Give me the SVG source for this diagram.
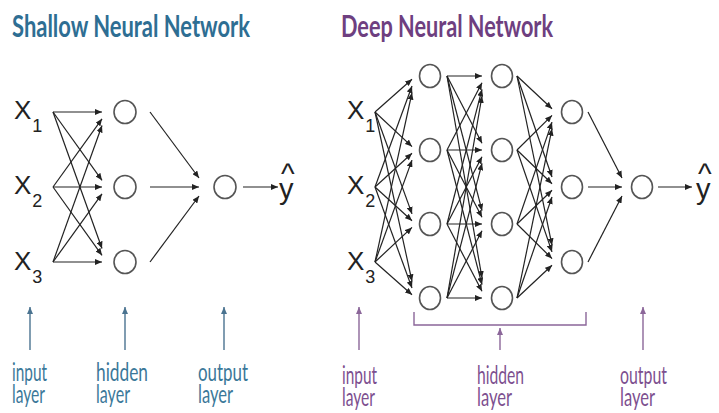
<svg xmlns="http://www.w3.org/2000/svg" width="719" height="413" viewBox="0 0 719 413">
<style>
.title{font-family:Lato,"Liberation Sans",sans-serif;font-weight:bold;font-size:30px}
.blue{fill:#2e6e93}
.purple{fill:#6e3f80}
.lbl{font-family:Lato,"Liberation Sans",sans-serif;font-size:25px}
.lblb{fill:#3b7899}
.lblp{fill:#7d4f8f}
.x{font-family:"Liberation Sans",Arial,sans-serif;font-size:26px;fill:#222}
.sub{font-size:18px}
.yh{font-family:"Liberation Sans",Arial,sans-serif;font-size:29px;fill:#222}
.node{fill:#fff;stroke:#555;stroke-width:1.6}
.edge{stroke:#222;stroke-width:1.2;fill:none;marker-end:url(#ah)}
.pa{stroke:#4a7390;stroke-width:1.4;fill:none;marker-end:url(#ahb)}
.pp{stroke:#8b6699;stroke-width:1.4;fill:none}
.ppa{stroke:#8b6699;stroke-width:1.4;fill:none;marker-end:url(#ahp)}
</style>
<defs>
<marker id="ah" markerUnits="userSpaceOnUse" markerWidth="7" markerHeight="6" refX="7" refY="3" orient="auto"><path d="M0,0 L7,3 L0,6 z" fill="#222"/></marker>
<marker id="ahb" markerUnits="userSpaceOnUse" markerWidth="7" markerHeight="6" refX="7" refY="3" orient="auto"><path d="M0,0 L7,3 L0,6 z" fill="#4a7390"/></marker>
<marker id="ahp" markerUnits="userSpaceOnUse" markerWidth="7" markerHeight="6" refX="7" refY="3" orient="auto"><path d="M0,0 L7,3 L0,6 z" fill="#8b6699"/></marker>
</defs>
<rect width="719" height="413" fill="#fff"/>

<text class="title blue" x="12" y="37" textLength="238" lengthAdjust="spacingAndGlyphs">Shallow Neural Network</text>
<text class="title purple" x="341" y="37" textLength="212" lengthAdjust="spacingAndGlyphs">Deep Neural Network</text>

<g id="connectors">
<line class="edge" x1="53" y1="112" x2="102" y2="112"/>
<line class="edge" x1="53" y1="112" x2="102" y2="180.3"/>
<line class="edge" x1="53" y1="112" x2="102" y2="248.5"/>
<line class="edge" x1="53" y1="187" x2="102" y2="118.8"/>
<line class="edge" x1="53" y1="187" x2="102" y2="187"/>
<line class="edge" x1="53" y1="187" x2="102" y2="255.3"/>
<line class="edge" x1="53" y1="262" x2="102" y2="125.5"/>
<line class="edge" x1="53" y1="262" x2="102" y2="193.8"/>
<line class="edge" x1="53" y1="262" x2="102" y2="262"/>
<line class="edge" x1="150" y1="112" x2="199" y2="178"/>
<line class="edge" x1="150" y1="187" x2="199" y2="187"/>
<line class="edge" x1="150" y1="262" x2="199" y2="196"/>
<line class="edge" x1="243" y1="187" x2="278" y2="187"/>

<line class="edge" x1="375" y1="112" x2="412" y2="79.2"/>
<line class="edge" x1="375" y1="112" x2="412" y2="146.6"/>
<line class="edge" x1="375" y1="112" x2="412" y2="213.9"/>
<line class="edge" x1="375" y1="112" x2="412" y2="281.3"/>
<line class="edge" x1="375" y1="187" x2="412" y2="86"/>
<line class="edge" x1="375" y1="187" x2="412" y2="153.3"/>
<line class="edge" x1="375" y1="187" x2="412" y2="220.7"/>
<line class="edge" x1="375" y1="187" x2="412" y2="288"/>
<line class="edge" x1="375" y1="262" x2="412" y2="92.7"/>
<line class="edge" x1="375" y1="262" x2="412" y2="160.1"/>
<line class="edge" x1="375" y1="262" x2="412" y2="227.4"/>
<line class="edge" x1="375" y1="262" x2="412" y2="294.8"/>
<line class="edge" x1="447" y1="76" x2="482" y2="76"/>
<line class="edge" x1="447" y1="76" x2="482" y2="143.3"/>
<line class="edge" x1="447" y1="76" x2="482" y2="210.7"/>
<line class="edge" x1="447" y1="76" x2="482" y2="278"/>
<line class="edge" x1="447" y1="150" x2="482" y2="82.7"/>
<line class="edge" x1="447" y1="150" x2="482" y2="150"/>
<line class="edge" x1="447" y1="150" x2="482" y2="217.3"/>
<line class="edge" x1="447" y1="150" x2="482" y2="284.7"/>
<line class="edge" x1="447" y1="224" x2="482" y2="89.3"/>
<line class="edge" x1="447" y1="224" x2="482" y2="156.7"/>
<line class="edge" x1="447" y1="224" x2="482" y2="224"/>
<line class="edge" x1="447" y1="224" x2="482" y2="291.3"/>
<line class="edge" x1="447" y1="298" x2="482" y2="96"/>
<line class="edge" x1="447" y1="298" x2="482" y2="163.3"/>
<line class="edge" x1="447" y1="298" x2="482" y2="230.7"/>
<line class="edge" x1="447" y1="298" x2="482" y2="298"/>
<line class="edge" x1="517" y1="76" x2="552" y2="108.8"/>
<line class="edge" x1="517" y1="76" x2="552" y2="177"/>
<line class="edge" x1="517" y1="76" x2="552" y2="245.3"/>
<line class="edge" x1="517" y1="150" x2="552" y2="115.4"/>
<line class="edge" x1="517" y1="150" x2="552" y2="183.7"/>
<line class="edge" x1="517" y1="150" x2="552" y2="251.9"/>
<line class="edge" x1="517" y1="224" x2="552" y2="122.1"/>
<line class="edge" x1="517" y1="224" x2="552" y2="190.3"/>
<line class="edge" x1="517" y1="224" x2="552" y2="258.6"/>
<line class="edge" x1="517" y1="298" x2="552" y2="128.7"/>
<line class="edge" x1="517" y1="298" x2="552" y2="197"/>
<line class="edge" x1="517" y1="298" x2="552" y2="265.2"/>
<line class="edge" x1="588" y1="112" x2="622" y2="178"/>
<line class="edge" x1="588" y1="187" x2="622" y2="187"/>
<line class="edge" x1="588" y1="262" x2="622" y2="196"/>
<line class="edge" x1="658" y1="187" x2="692" y2="187"/>

<line class="pa" x1="30" y1="350" x2="30" y2="307"/>
<line class="pa" x1="125" y1="350" x2="125" y2="307"/>
<line class="pa" x1="224" y1="350" x2="224" y2="307"/>
<line class="ppa" x1="359" y1="350" x2="359" y2="307"/>
<path class="pp" d="M414,312 V325 H586 V312"/>
<line class="ppa" x1="500" y1="350" x2="500" y2="328"/>
<line class="ppa" x1="643" y1="350" x2="643" y2="307"/>
</g>

<g id="s-x1"><text class="x" x="14" y="119">X<tspan class="sub" dx="1" dy="13">1</tspan></text></g>
<g id="s-x2"><text class="x" x="14" y="194">X<tspan class="sub" dx="1" dy="13">2</tspan></text></g>
<g id="s-x3"><text class="x" x="14" y="270">X<tspan class="sub" dx="1" dy="13">3</tspan></text></g>
<g id="s-h1"><ellipse class="node" cx="125" cy="112" rx="11" ry="11.5"/></g>
<g id="s-h2"><ellipse class="node" cx="125" cy="187" rx="11" ry="11.5"/></g>
<g id="s-h3"><ellipse class="node" cx="125" cy="262" rx="11" ry="11.5"/></g>
<g id="s-out"><ellipse class="node" cx="225" cy="187" rx="11" ry="11.5"/></g>
<g id="s-yhat"><text class="yh" x="281" y="184">^</text><text class="yh" x="279" y="199">y</text></g>

<g id="d-x1"><text class="x" x="347" y="119">X<tspan class="sub" dx="1" dy="13">1</tspan></text></g>
<g id="d-x2"><text class="x" x="347" y="194">X<tspan class="sub" dx="1" dy="13">2</tspan></text></g>
<g id="d-x3"><text class="x" x="347" y="270">X<tspan class="sub" dx="1" dy="13">3</tspan></text></g>
<g id="d-l1n1"><ellipse class="node" cx="430" cy="76" rx="10.5" ry="11.5"/></g>
<g id="d-l1n2"><ellipse class="node" cx="430" cy="150" rx="10.5" ry="11.5"/></g>
<g id="d-l1n3"><ellipse class="node" cx="430" cy="224" rx="10.5" ry="11.5"/></g>
<g id="d-l1n4"><ellipse class="node" cx="430" cy="298" rx="10.5" ry="11.5"/></g>
<g id="d-l2n1"><ellipse class="node" cx="502" cy="76" rx="10.5" ry="11.5"/></g>
<g id="d-l2n2"><ellipse class="node" cx="502" cy="150" rx="10.5" ry="11.5"/></g>
<g id="d-l2n3"><ellipse class="node" cx="502" cy="224" rx="10.5" ry="11.5"/></g>
<g id="d-l2n4"><ellipse class="node" cx="502" cy="298" rx="10.5" ry="11.5"/></g>
<g id="d-l3n1"><ellipse class="node" cx="572" cy="112" rx="10.5" ry="11.5"/></g>
<g id="d-l3n2"><ellipse class="node" cx="572" cy="187" rx="10.5" ry="11.5"/></g>
<g id="d-l3n3"><ellipse class="node" cx="572" cy="262" rx="10.5" ry="11.5"/></g>
<g id="d-out"><ellipse class="node" cx="642" cy="187" rx="10.5" ry="11.5"/></g>
<g id="d-yhat"><text class="yh" x="698" y="184">^</text><text class="yh" x="696" y="199">y</text></g>

<g id="s-lbl-input"><text class="lbl lblb" x="12" y="381" textLength="35" lengthAdjust="spacingAndGlyphs">input</text><text class="lbl lblb" x="12" y="403" textLength="33" lengthAdjust="spacingAndGlyphs">layer</text></g>
<g id="s-lbl-hidden"><text class="lbl lblb" x="96" y="381" textLength="52" lengthAdjust="spacingAndGlyphs">hidden</text><text class="lbl lblb" x="96" y="403" textLength="34" lengthAdjust="spacingAndGlyphs">layer</text></g>
<g id="s-lbl-output"><text class="lbl lblb" x="198" y="381" textLength="50" lengthAdjust="spacingAndGlyphs">output</text><text class="lbl lblb" x="198" y="403" textLength="35" lengthAdjust="spacingAndGlyphs">layer</text></g>
<g id="d-lbl-input"><text class="lbl lblp" x="342" y="384" textLength="35" lengthAdjust="spacingAndGlyphs">input</text><text class="lbl lblp" x="342" y="406" textLength="33" lengthAdjust="spacingAndGlyphs">layer</text></g>
<g id="d-lbl-hidden"><text class="lbl lblp" x="477" y="384" textLength="47" lengthAdjust="spacingAndGlyphs">hidden</text><text class="lbl lblp" x="477" y="406" textLength="35" lengthAdjust="spacingAndGlyphs">layer</text></g>
<g id="d-lbl-output"><text class="lbl lblp" x="620" y="384" textLength="47" lengthAdjust="spacingAndGlyphs">output</text><text class="lbl lblp" x="620" y="406" textLength="35" lengthAdjust="spacingAndGlyphs">layer</text></g>
</svg>
